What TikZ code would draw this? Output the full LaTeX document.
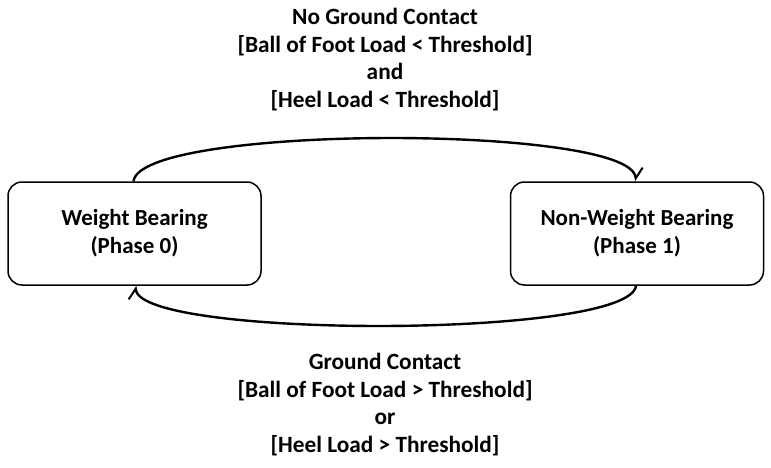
\documentclass[tikz,border=0pt]{standalone}
\usepackage{fontspec}
\setmainfont{Carlito}
\usetikzlibrary{arrows.meta}
\begin{document}
\begin{tikzpicture}[x=1pt,y=-1pt,
  state/.style={draw=black, line width=1.5pt, rounded corners=14pt, minimum width=253pt, minimum height=103pt, align=center, font=\fontsize{23}{28}\selectfont\bfseries, inner sep=0pt},
  lbl/.style={align=center, font=\fontsize{23.3}{27.8}\selectfont\bfseries, inner sep=0pt},
  trans/.style={line width=2.4pt, -{Straight Barb[left,length=10pt,width=16pt,line width=2pt]}}]
\useasboundingbox (0,0) rectangle (771,468);
\node[state] (wb) at (134.5,233.5) {Weight Bearing\\(Phase 0)};
\node[state] (nwb) at (637,233.5) {Non-Weight Bearing\\(Phase 1)};
\node[lbl] (top) at (385,59.5) {No Ground Contact\\{}[Ball of Foot Load < Threshold]\\and\\{}[Heel Load < Threshold]};
\node[lbl] (bot) at (385,404.5) {Ground Contact\\{}[Ball of Foot Load > Threshold]\\or\\{}[Heel Load > Threshold]};
\draw[trans] ([xshift=-1pt]wb.north) .. controls +(7,-57) and +(-6,-57) .. ([xshift=-1pt]nwb.north);
\draw[trans] ([xshift=-1pt]nwb.south) .. controls +(-6,53) and +(5,53) .. ([xshift=1pt]wb.south);
\end{tikzpicture}
\end{document}
